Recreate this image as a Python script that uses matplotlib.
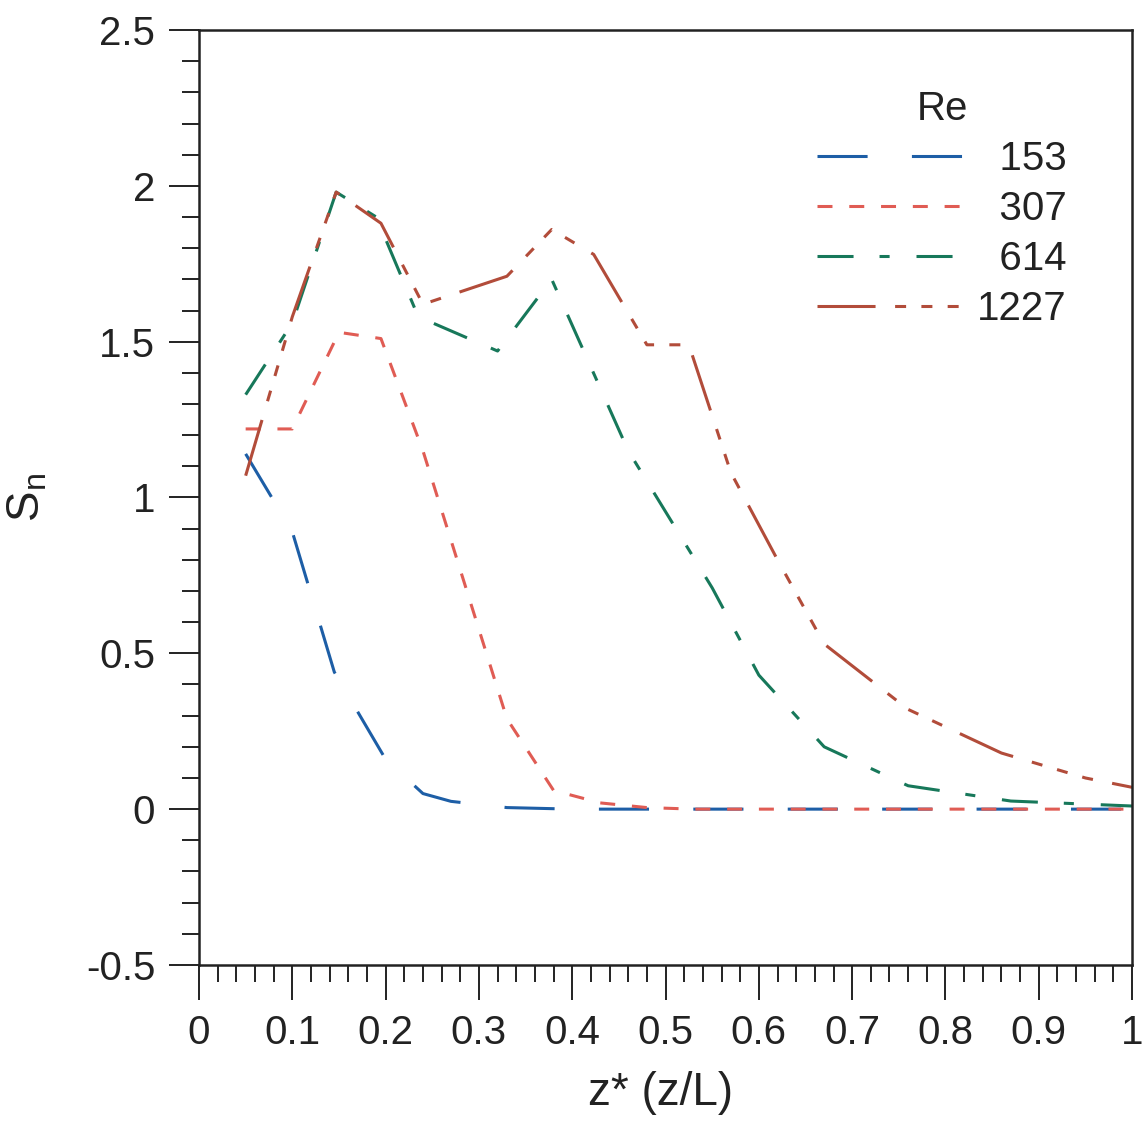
import numpy as np
import matplotlib.pyplot as plt
from matplotlib.ticker import MultipleLocator, FuncFormatter

plt.rcParams['font.family'] = ['Liberation Sans', 'DejaVu Sans']
plt.rcParams['mathtext.fontset'] = 'custom'
plt.rcParams['mathtext.rm'] = 'Liberation Sans'
plt.rcParams['mathtext.it'] = 'Liberation Sans'
plt.rcParams['axes.unicode_minus'] = False

# Sn profiles along z* for each Reynolds number
re_labels = ['153', '307', '614', '1227']

z_153 = [0.05, 0.10, 0.145, 0.20, 0.24, 0.27, 0.33, 0.40, 0.50, 0.60, 0.70, 0.80, 0.90, 1.00]
sn_153 = [1.14, 0.89, 0.44, 0.16, 0.05, 0.025, 0.005, 0.0, 0.0, 0.0, 0.0, 0.0, 0.0, 0.0]

z_307 = [0.05, 0.10, 0.15, 0.195, 0.24, 0.33, 0.38, 0.43, 0.48, 0.53, 0.60, 0.70, 0.80, 0.90, 1.00]
sn_307 = [1.22, 1.22, 1.53, 1.51, 1.15, 0.29, 0.06, 0.02, 0.005, 0.0, 0.0, 0.0, 0.0, 0.0, 0.0]

z_614 = [0.05, 0.10, 0.147, 0.19, 0.235, 0.32, 0.378, 0.46, 0.55, 0.60, 0.67, 0.76, 0.87, 1.00]
sn_614 = [1.33, 1.56, 1.98, 1.90, 1.58, 1.47, 1.70, 1.15, 0.71, 0.43, 0.20, 0.075, 0.026, 0.01]

z_1227 = [0.05, 0.10, 0.147, 0.195, 0.24, 0.33, 0.378, 0.423, 0.48, 0.525, 0.57, 0.62, 0.67,
          0.76, 0.86, 0.95, 1.00]
sn_1227 = [1.07, 1.58, 1.98, 1.88, 1.62, 1.71, 1.86, 1.78, 1.49, 1.49, 1.08, 0.80, 0.53,
           0.32, 0.18, 0.10, 0.07]

colors = ['#1d5ea6', '#e05c54', '#17785a', '#b24c3a']
dashes = [(16.4, 14.5), (4.9, 5.5), (11.8, 8.5, 3.3, 8.8), (19, 6.4, 3.6, 5, 3.6, 5, 3.6, 6.4)]

fig = plt.figure(figsize=(11.47, 11.21), dpi=100)
ax = fig.add_axes([0.1735, 0.1392, 0.8135, 0.834])

series = [(z_153, sn_153), (z_307, sn_307), (z_614, sn_614), (z_1227, sn_1227)]
for (z, sn), lab, c, d in zip(series, re_labels, colors, dashes):
    # figure space pads the short labels so the numbers line up on the right
    ax.plot(z, sn, color=c, lw=2.2, dashes=d, label='\u2007' * (4 - len(lab)) + lab)

ax.set_xlim(0, 1)
ax.set_ylim(-0.5, 2.5)
ax.xaxis.set_major_locator(MultipleLocator(0.1))
ax.xaxis.set_minor_locator(MultipleLocator(0.02))
ax.yaxis.set_major_locator(MultipleLocator(0.5))
ax.yaxis.set_minor_locator(MultipleLocator(0.1))
fmt = FuncFormatter(lambda v, p: '%g' % round(v, 2))
ax.xaxis.set_major_formatter(fmt)
ax.yaxis.set_major_formatter(fmt)

for s in ax.spines.values():
    s.set_linewidth(1.8)
    s.set_color('#222222')
ax.tick_params(axis='x', which='major', direction='out', length=25, width=1.4, pad=10,
               labelsize=29, colors='#222222')
ax.tick_params(axis='x', which='minor', direction='out', length=12, width=1.4, colors='#222222')
ax.tick_params(axis='y', which='major', direction='out', length=21.5, width=1.4, pad=10,
               labelsize=29, colors='#222222')
ax.tick_params(axis='y', which='minor', direction='out', length=12, width=1.4, colors='#222222')

ax.set_xlabel('z* (z/L)', fontsize=33, color='#222222')
ax.set_ylabel(r'S$_\mathregular{n}$', fontsize=33, color='#222222')
ax.xaxis.set_label_coords(0.495, -0.113)
ax.yaxis.set_label_coords(-0.16, 0.5)

leg = ax.legend(title='Re', loc='upper right', bbox_to_anchor=(0.93, 0.936), frameon=False,
                fontsize=29, title_fontsize=29, handlelength=3.65, handletextpad=0.32,
                labelspacing=0.3, borderpad=0, borderaxespad=0)
for t in leg.get_texts():
    t.set_color('#222222')
leg.get_title().set_color('#222222')

fig.savefig('out.png', dpi=100)
